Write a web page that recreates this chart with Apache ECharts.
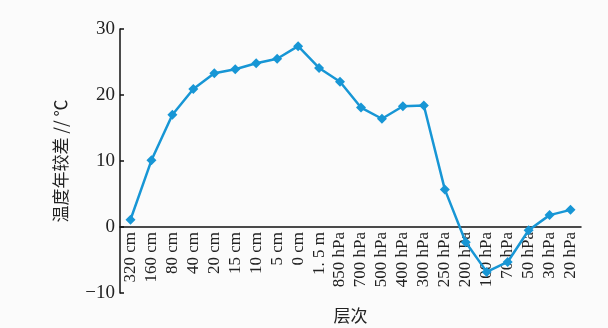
<!DOCTYPE html>
<html>
<head>
<meta charset="utf-8">
<script src="https://cdn.jsdelivr.net/npm/echarts@6/dist/echarts.min.js"></script>
<style>
  html, body { margin: 0; padding: 0; background: #fbfbfb; }
  #chart { width: 608px; height: 328px; }
</style>
</head>
<body>
<div id="chart"></div>
<script>
// Layers from deep soil up through the atmosphere
const layers = [
  '320 cm', '160 cm', '80 cm', '40 cm', '20 cm', '15 cm', '10 cm', '5 cm', '0 cm',
  '1. 5 m',
  '850 hPa', '700 hPa', '500 hPa', '400 hPa', '300 hPa', '250 hPa', '200 hPa',
  '100 hPa', '70 hPa', '50 hPa', '30 hPa', '20 hPa'
];

// Annual temperature range (°C) at each layer
const annualRange = [
  1.1, 10.1, 17.0, 20.9, 23.3, 23.9, 24.8, 25.5, 27.4,
  24.1,
  22.0, 18.1, 16.4, 18.3, 18.4, 5.7, -2.3,
  -6.8, -5.3, -0.5, 1.8, 2.6
];

const yTicks = { min: -10, max: 30, step: 10 };

const serif = '"Liberation Serif", "DejaVu Serif", serif';
const cjk = '"Noto Sans CJK SC", sans-serif';

const gridTop = 29, gridBottom = 35, chartHeight = 328;
// Lift the category axis from the grid bottom up to the zero line
const plotHeight = chartHeight - gridTop - gridBottom;
const zeroLift = plotHeight * (0 - yTicks.min) / (yTicks.max - yTicks.min);

const chart = echarts.init(document.getElementById('chart'));
chart.setOption({
  backgroundColor: '#fbfbfb',
  animation: false,
  grid: {
    left: 120, right: 27, top: gridTop, bottom: gridBottom,
    containLabel: false,
    outerBoundsMode: 'none'
  },
  xAxis: {
    type: 'category',
    data: layers,
    boundaryGap: true,
    position: 'bottom',
    offset: -zeroLift,
    name: '层次',
    nameLocation: 'middle',
    nameGap: 80,
    nameTextStyle: { fontFamily: cjk, fontSize: 17, color: '#222' },
    axisLine: { onZero: false, lineStyle: { color: '#111', width: 1.5 } },
    axisTick: { show: false },
    axisLabel: {
      interval: 0,
      rotate: 90,
      margin: 5,
      fontFamily: serif,
      fontSize: 17,
      color: '#222'
    },
    splitLine: { show: false }
  },
  yAxis: {
    type: 'value',
    min: yTicks.min,
    max: yTicks.max,
    interval: yTicks.step,
    name: '温度年较差 // ℃',
    nameLocation: 'middle',
    nameRotate: 90,
    nameGap: 51,
    nameTextStyle: { fontFamily: cjk, fontSize: 17, color: '#222' },
    axisLine: { show: true, lineStyle: { color: '#111', width: 1.5 } },
    axisTick: { show: true, inside: true, length: 4, lineStyle: { color: '#111', width: 1.5 } },
    axisLabel: {
      margin: 5,
      fontFamily: serif,
      fontSize: 19,
      color: '#222',
      formatter: v => (v < 0 ? '\u2212' + Math.abs(v) : String(v))
    },
    splitLine: { show: false }
  },
  series: [{
    type: 'line',
    data: annualRange,
    symbol: 'diamond',
    symbolSize: 10,
    lineStyle: { color: '#1796d5', width: 2.5 },
    itemStyle: { color: '#1796d5' }
  }]
});
</script>
</body>
</html>
